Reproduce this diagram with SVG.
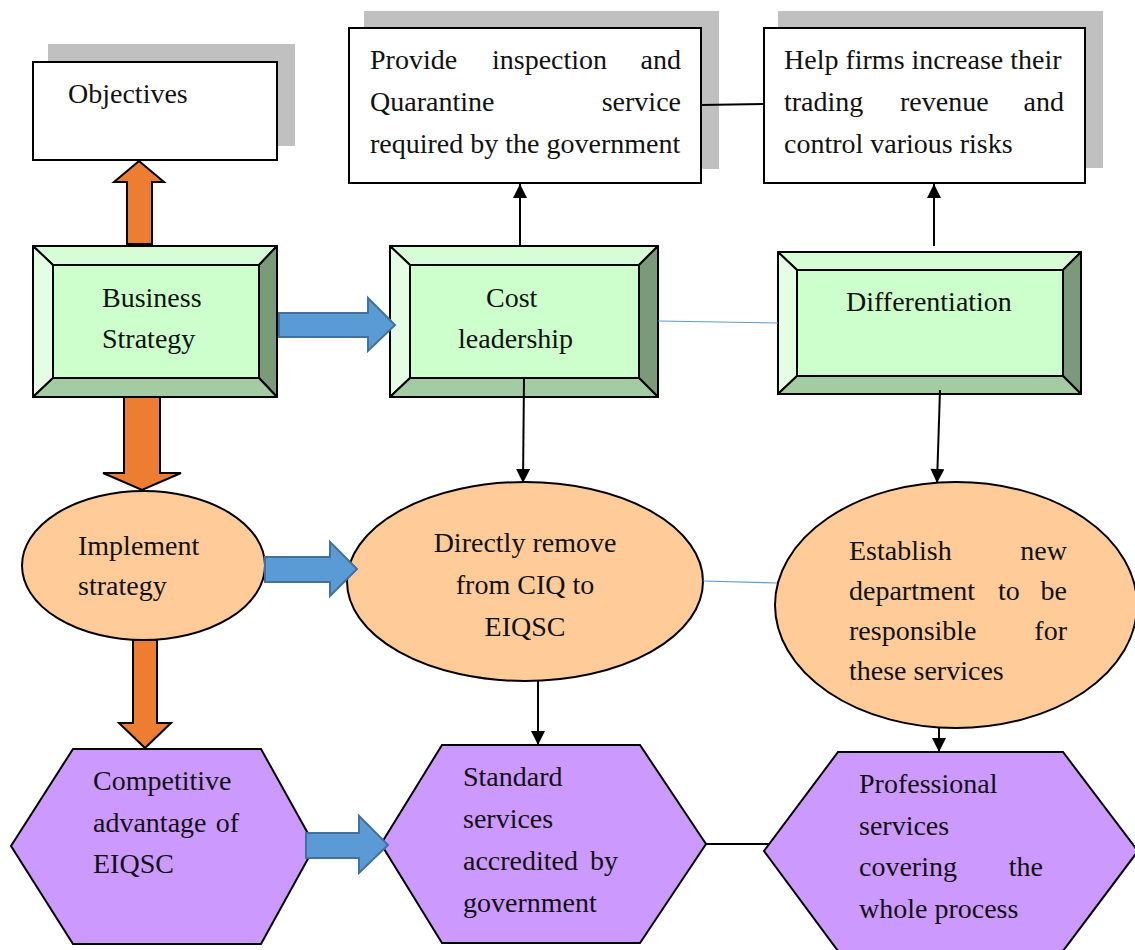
<svg xmlns="http://www.w3.org/2000/svg" width="1135" height="950" viewBox="0 0 1135 950">
  <style>
    text { font-family: "Liberation Serif", "Times New Roman", serif; font-size: 28px; fill: #111; }
    .mid { text-anchor: middle; }
    .end { text-anchor: end; }
    .box { fill: #fff; stroke: #000; stroke-width: 2; }
    .shadow { fill: #c0c0c0; }
    .bv-face { fill: #ccffcc; stroke: #000; stroke-width: 2; }
    .bv-top { fill: #d6fdd6; stroke: #000; stroke-width: 2; stroke-linejoin: round; }
    .bv-left { fill: #e4fee4; stroke: #000; stroke-width: 2; stroke-linejoin: round; }
    .bv-right { fill: #7a9a7a; stroke: #000; stroke-width: 2; stroke-linejoin: round; }
    .bv-bottom { fill: #a3cca3; stroke: #000; stroke-width: 2; stroke-linejoin: round; }
    .oval { fill: #ffcc99; stroke: #000; stroke-width: 2; }
    .hex { fill: #cc99ff; stroke: #000; stroke-width: 2; }
    .link { stroke: #000; stroke-width: 2; fill: none; }
    .thin-blue { stroke: #5b9bd5; stroke-width: 1.2; fill: none; }
    .orange { fill: #ed7d31; stroke: #000; stroke-width: 2; stroke-linejoin: miter; }
    .blue { fill: #5b9bd5; stroke: #41719c; stroke-width: 2; }
  </style>
  <defs>
    <marker id="head" viewBox="0 0 10 10" refX="10" refY="5" markerWidth="15" markerHeight="14" markerUnits="userSpaceOnUse" orient="auto">
      <path d="M0,0 L10,5 L0,10 z" fill="#000"/>
    </marker>
  </defs>

  <!-- top row: outcome boxes with drop shadows -->
  <g id="objectives">
    <rect class="shadow" x="48" y="44" width="247" height="102"/>
    <rect class="box" x="33" y="62" width="244" height="98"/>
    <text x="68" y="103">Objectives</text>
  </g>
  <g id="inspection-service">
    <rect class="shadow" x="364" y="11" width="355" height="158"/>
    <rect class="box" x="349" y="28" width="352" height="155"/>
    <text x="370" y="69">Provide</text>
    <text x="492" y="69">inspection</text>
    <text class="end" x="681" y="69">and</text>
    <text x="370" y="111">Quarantine</text>
    <text class="end" x="681" y="111">service</text>
    <text x="370" y="153">required by the government</text>
  </g>
  <g id="trading-revenue">
    <rect class="shadow" x="778" y="11" width="325" height="157"/>
    <rect class="box" x="764" y="28" width="321" height="155"/>
    <text x="784" y="69">Help firms increase their</text>
    <text x="784" y="111">trading</text>
    <text x="900" y="111">revenue</text>
    <text class="end" x="1064" y="111">and</text>
    <text x="784" y="153">control various risks</text>
  </g>

  <!-- strategy row: bevelled boxes -->
  <g id="business-strategy">
    <polygon class="bv-top" points="33,246 277,246 259,265 53,265"/>
    <polygon class="bv-left" points="33,246 53,265 53,378 33,397"/>
    <polygon class="bv-right" points="277,246 277,397 259,378 259,265"/>
    <polygon class="bv-bottom" points="33,397 53,378 259,378 277,397"/>
    <rect class="bv-face" x="53" y="265" width="206" height="113"/>
    <text x="102" y="307">Business</text>
    <text x="102" y="348">Strategy</text>
  </g>
  <g id="cost-leadership">
    <polygon class="bv-top" points="390,246 658,246 639,265 410,265"/>
    <polygon class="bv-left" points="390,246 410,265 410,378 390,397"/>
    <polygon class="bv-right" points="658,246 658,397 639,378 639,265"/>
    <polygon class="bv-bottom" points="390,397 410,378 639,378 658,397"/>
    <rect class="bv-face" x="410" y="265" width="229" height="113"/>
    <text x="486" y="307">Cost</text>
    <text x="458" y="348">leadership</text>
  </g>
  <g id="differentiation">
    <polygon class="bv-top" points="778,252 1081,252 1063,270 797,270"/>
    <polygon class="bv-left" points="778,252 797,270 797,376 778,394"/>
    <polygon class="bv-right" points="1081,252 1081,394 1063,376 1063,270"/>
    <polygon class="bv-bottom" points="778,394 797,376 1063,376 1081,394"/>
    <rect class="bv-face" x="797" y="270" width="266" height="106"/>
    <text x="846" y="311">Differentiation</text>
  </g>

  <!-- implementation row: ovals -->
  <g id="implement-strategy">
    <ellipse class="oval" cx="143.5" cy="565.5" rx="121.5" ry="74.5"/>
    <text x="78" y="555">Implement</text>
    <text x="78" y="595">strategy</text>
  </g>
  <g id="remove-ciq">
    <ellipse class="oval" cx="525" cy="581.5" rx="178" ry="99.5"/>
    <text class="mid" x="525" y="552">Directly remove</text>
    <text class="mid" x="525" y="594">from CIQ to</text>
    <text class="mid" x="525" y="636">EIQSC</text>
  </g>
  <g id="new-department">
    <ellipse class="oval" cx="956" cy="605" rx="181" ry="123"/>
    <text x="849" y="560">Establish</text>
    <text class="end" x="1067" y="560">new</text>
    <text x="849" y="600">department</text>
    <text x="998" y="600">to</text>
    <text class="end" x="1067" y="600">be</text>
    <text x="849" y="640">responsible</text>
    <text class="end" x="1067" y="640">for</text>
    <text x="849" y="680">these services</text>
  </g>

  <!-- advantage row: hexagons -->
  <g id="competitive-advantage">
    <polygon class="hex" points="73,749 261,749 315,846 261,944 73,944 11,846"/>
    <text x="93" y="790">Competitive</text>
    <text x="93" y="832">advantage</text>
    <text class="end" x="239" y="832">of</text>
    <text x="93" y="873">EIQSC</text>
  </g>
  <g id="standard-services">
    <polygon class="hex" points="442,745 640,745 706,844 640,943 442,943 381,844"/>
    <text x="463" y="786">Standard</text>
    <text x="463" y="828">services</text>
    <text x="463" y="870">accredited</text>
    <text class="end" x="618" y="870">by</text>
    <text x="463" y="912">government</text>
  </g>
  <g id="professional-services">
    <polygon class="hex" points="838,752 1063,752 1138,851 1063,951 838,951 764,851"/>
    <text x="859" y="793">Professional</text>
    <text x="859" y="835">services</text>
    <text x="859" y="876">covering</text>
    <text class="end" x="1043" y="876">the</text>
    <text x="859" y="918">whole process</text>
  </g>

  <g id="connectors">
    <!-- block arrows -->
    <polygon class="orange" points="127,244 127,182 114,182 139,161 164,182 152,182 152,244"/>
    <polygon class="orange" points="124,397 124,473 103,473 142,490 181,473 160,473 160,397"/>
    <polygon class="orange" points="133,640 133,723 119,723 145,748 171,723 157,723 157,640"/>
    <polygon class="blue" points="279,313 368,313 368,298 395,325 368,351 368,337 279,337"/>
    <polygon class="blue" points="265,557 330,557 330,542 357,569 330,596 330,582 265,582"/>
    <polygon class="blue" points="306,833 359,833 359,816 388,845 359,873 359,858 306,858"/>
    <!-- arrowed links -->
    <line class="link" x1="520" y1="247" x2="520" y2="184" marker-end="url(#head)"/>
    <line class="link" x1="934" y1="246" x2="934" y2="184" marker-end="url(#head)"/>
    <line class="link" x1="524" y1="378" x2="523" y2="483" marker-end="url(#head)"/>
    <line class="link" x1="940" y1="390" x2="937" y2="483" marker-end="url(#head)"/>
    <line class="link" x1="538" y1="681" x2="538" y2="745" marker-end="url(#head)"/>
    <line class="link" x1="939" y1="728" x2="939" y2="752" marker-end="url(#head)"/>
    <!-- plain links -->
    <line class="link" x1="701" y1="105" x2="764" y2="104"/>
    <line class="link" x1="706" y1="844" x2="770" y2="844"/>
    <line class="thin-blue" x1="658" y1="321" x2="778" y2="323"/>
    <line class="thin-blue" x1="703" y1="581" x2="777" y2="583"/>
  </g>
</svg>
